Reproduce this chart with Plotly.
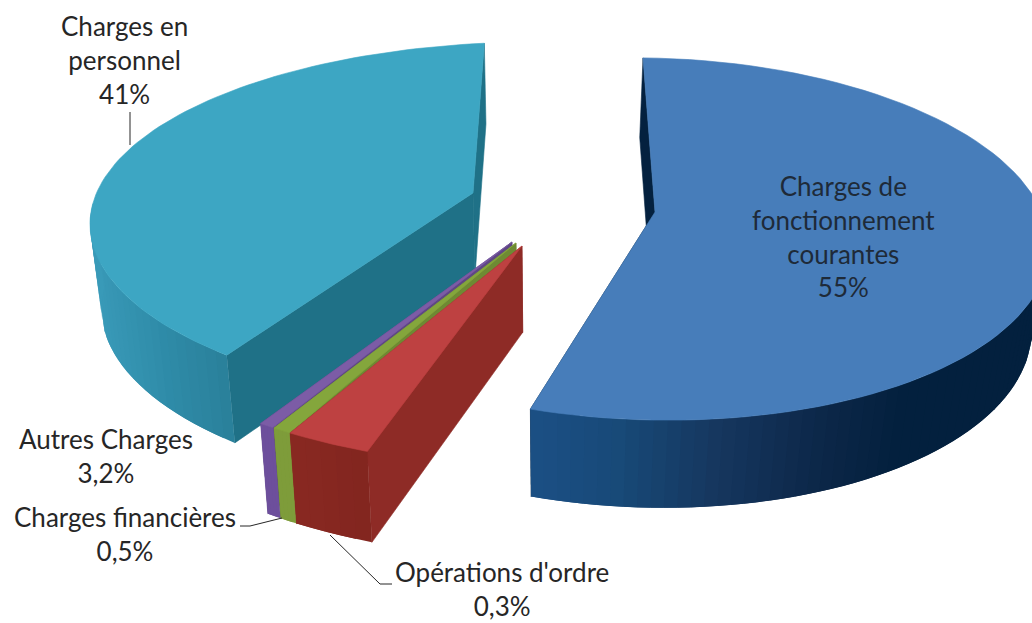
import numpy as np
import plotly.graph_objects as go

# ---- data ----
categories = ["Charges de<br>fonctionnement<br>courantes", "Opérations d'ordre",
              "Charges financières", "Autres Charges", "Charges en<br>personnel"]
percent_labels = ["55%", "0,3%", "0,5%", "3,2%", "41%"]
# shares as drawn (wedge sizes), in drawing order around the pie
shares = [55.0, 3.2, 0.5, 0.3, 41.0]

# ---- view model of the tilted, exploded pie ----
W, H = 1032, 623
VX = 550.0
slices = [
    dict(c=(651, 239), rx=398, ry=181, tilt=0.02, apex=(655, 212), start=-1.15, k=1.004, depth=83.5, s=0.965,
         top="#477DBA", cut="#04213F",
         rim=[(530, "#1C5085"), (620, "#184A78"), (720, "#16375F"), (830, "#0C2748"), (900, "#04213F"), (1040, "#03203E")]),
    dict(c=(553, 286), rx=446, ry=182, tilt=0, apex=(522, 246), start=204.6, k=1.0, depth=86, s=0.975,
         top="#BE4141", cut="#8E2B26", rim=[(280, "#8A2A22"), (380, "#82251F")]),
    dict(c=(553, 286), rx=446, ry=182, tilt=0, apex=(516, 243), start=216.1, k=1.45, depth=86, s=0.975,
         top="#84A63C", cut="#6E8A33", rim=[(270, "#7E9C3A"), (300, "#7E9C3A")]),
    dict(c=(553, 286), rx=446, ry=182, tilt=0, apex=(512, 242), start=218.8, k=2.0, depth=86, s=0.975,
         top="#7C5CA6", cut="#5F4785", rim=[(250, "#6D4F9C"), (280, "#6D4F9C")]),
    dict(c=(536, 224), rx=446, ry=182, tilt=0, apex=(473, 193), start=223.9, k=0.877, depth=85, s=0.975,
         top="#3DA6C3", cut="#1F7187", rim=[(90, "#3A9BB9"), (160, "#2F8CA9"), (235, "#2A7F99")]),
]
draw_order = [4, 0, 3, 2, 1]

LABELS = [
    dict(i=0, x=843, y=236, col="#1E2A38"),
    dict(i=1, x=502, y=589, col="#262626"),
    dict(i=2, x=125, y=534, col="#262626"),
    dict(i=3, x=106, y=456, col="#262626"),
    dict(i=4, x=124, y=60, col="#262626"),
]
leaders = [
    ([130, 130], [112, 145]),
    ([240, 250, 282], [526, 526, 518]),
    ([330, 380, 392], [535, 584, 584]),
]


def ell(s, t):
    t = np.radians(t)
    x = s["c"][0] + s["rx"] * np.sin(t)
    y = s["c"][1] - s["ry"] * np.cos(t) + s["tilt"] * s["rx"] * np.sin(t)
    return x, y


def drop(s, x, y):
    x = np.asarray(x, float)
    y = np.asarray(y, float)
    return VX + s["s"] * (x - VX), y + s["depth"] + 0.022 * (y - 230)


def hex_rgb(h):
    return np.array([int(h[i:i + 2], 16) for i in (1, 3, 5)], float)


def rim_col(stops, x):
    xs = [p[0] for p in stops]
    cols = np.array([hex_rgb(p[1]) for p in stops])
    return "rgb(%d,%d,%d)" % tuple(np.interp(x, xs, cols[:, j]) for j in range(3))


fig = go.Figure()


def poly(x, y, col, lw=0.6):
    x = list(x)
    y = list(y)
    fig.add_trace(go.Scatter(x=x + x[:1], y=y + y[:1], mode="lines", fill="toself",
                             fillcolor=col, line=dict(color=col, width=lw),
                             hoverinfo="skip", showlegend=False))


for idx in draw_order:
    s = slices[idx]
    t0 = s["start"]
    t1 = t0 + shares[idx] * 3.6 * s["k"]
    ax, ay = s["apex"]
    # cut faces
    for t in (t1, t0):
        px, py = ell(s, t)
        bx, by = drop(s, [px, ax], [py, ay])
        poly([ax, px, bx[0], bx[1]], [ay, py, by[0], by[1]], s["cut"])
    # outer rim: overlapping strips, each painted over the previous one, for the shading
    n = max(4, int(abs(t1 - t0) / 2))
    ts = np.linspace(t0, t1, n + 1)
    step = ts[1] - ts[0]
    for a, b in zip(ts[:-1], ts[1:]):
        if not (85 <= (a + b) / 2 <= 275):
            continue
        b2 = min(b + step, t1)
        tt = np.linspace(a, b2, 5)
        xe, ye = ell(s, tt)
        dx, dy = drop(s, xe, ye)
        poly(list(xe) + list(dx[::-1]), list(ye) + list(dy[::-1]),
             rim_col(s["rim"], (xe[0] + xe[2]) / 2), lw=0)
    # top face
    tt = np.linspace(t0, t1, 90)
    ex, ey = ell(s, tt)
    poly([ax] + list(ex), [ay] + list(ey), s["top"])

for lx, ly in leaders:
    fig.add_trace(go.Scatter(x=lx, y=ly, mode="lines", line=dict(color="#262626", width=1),
                             hoverinfo="skip", showlegend=False))

for l in LABELS:
    fig.add_annotation(x=l["x"], y=l["y"], xref="x", yref="y", showarrow=False,
                       text=categories[l["i"]] + "<br>" + percent_labels[l["i"]],
                       font=dict(family="Lato", size=26, color=l["col"]), align="center")

fig.update_xaxes(range=[0, W], visible=False, fixedrange=True)
fig.update_yaxes(range=[H, 0], visible=False, fixedrange=True)
fig.update_layout(width=W, height=H, margin=dict(l=0, r=0, t=0, b=0),
                  paper_bgcolor="white", plot_bgcolor="white", showlegend=False)
fig.write_html("out.html", config={"displayModeBar": False},
               post_script="document.body.style.margin='0';")
